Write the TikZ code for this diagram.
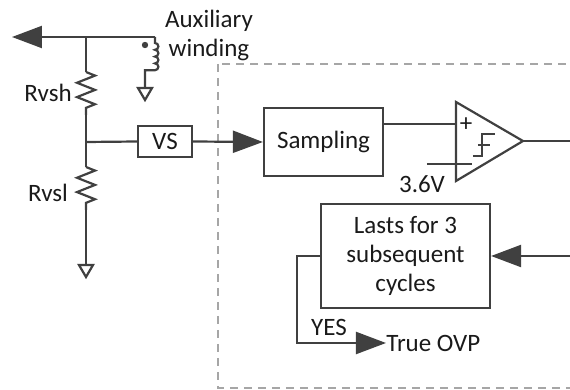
\documentclass[tikz,border=0pt]{standalone}
\usepackage{fontspec}
\setmainfont{Carlito}
\usepackage{tikz}
\usetikzlibrary{arrows.meta,positioning,decorations.pathmorphing}
\definecolor{ink}{HTML}{404040}
\definecolor{txt}{HTML}{1A1A1A}
\definecolor{frame}{HTML}{A6A6A6}
\tikzset{
  wire/.style={draw=ink, line width=1.1pt, line join=miter},
  arr/.style={wire, -{Triangle[length=15pt, width=11pt]}},
  blk/.style={draw=ink, line width=1.1pt, fill=white, text=txt, font=\fontsize{12.5}{14.5}\selectfont, align=center, inner sep=0pt},
  lab/.style={text=txt, font=\fontsize{12.5}{14.5}\selectfont, inner sep=0pt, align=center},
  res/.style={wire, decorate, decoration={zigzag, segment length=7.17pt, amplitude=4.5pt}},
  help/.style={draw=frame, dash pattern=on 4pt off 3pt, line width=0.6pt},
  gnd/.pic={\draw[wire] (-7,0) -- (7,0) -- (0,12) -- cycle;},
}

\begin{document}
\begin{tikzpicture}[x=0.5pt, y=-0.5pt]
\useasboundingbox (0,0) rectangle (570,390);

% chip boundary
\draw[help] (218,64) rectangle (600,388);

% divider and winding
\coordinate (out) at (12,37);
\coordinate (jt) at (86,37);
\coordinate (ct) at (155,37);
\coordinate (rh1) at (86,72);
\coordinate (rh2) at (86,115);
\coordinate (jm) at (86,142);
\coordinate (rl1) at (86,167);
\coordinate (rl2) at (86,210);
\coordinate (gl) at (86,265);
\coordinate (gc) at (145,88);

\draw[arr] (ct) -- (out);
\draw[wire] (jt) -- (rh1);
\draw[res] (rh1) -- (rh2);
\draw[wire] (rh2) -- (rl1);
\draw[res] (rl1) -- (rl2);
\draw[wire] (rl2) -- (gl);
\pic at (gl) {gnd};

\draw[wire] (ct) -- ++(0,6)
  arc[start angle=90, end angle=-90, radius=1.7pt]
  arc[start angle=90, end angle=-90, radius=1.7pt]
  arc[start angle=90, end angle=-90, radius=1.7pt]
  arc[start angle=90, end angle=-90, radius=1.7pt]
  -- ++(-10,0) -- (gc);
\pic at (gc) {gnd};
\fill[ink] (145,45) circle[radius=1.6pt];

\node[lab] (aux) at (209,35) {Auxiliary\\winding};
\node[lab] (rvsh) at (48,93) {Rvsh};
\node[lab] (rvsl) at (48,193) {Rvsl};

% sensing path
\node[blk, minimum width=27pt, minimum height=15.5pt] (vs) at (165,141.5) {VS};
\node[blk, minimum width=59.5pt, minimum height=34pt] (samp) at (323.5,142) {Sampling};
\draw[wire] (jm) -- (vs.west);
\draw[arr] (vs.east) -- (samp.west);

% comparator
\coordinate (ctop) at (456,102);
\coordinate (cbot) at (456,181);
\coordinate (tip) at (523,141);
\coordinate (inp) at (456,124);
\coordinate (ref) at (427,164);
\coordinate (o1) at (572,141);
\draw[wire] (ctop) -- (tip) -- (cbot) -- cycle;
\draw[wire] (samp.east |- inp) -- (inp);
\draw[wire] (ref) -- (472,164);
\node[lab] (plus) at (466,125) {+};
\draw[wire] (473,156) -- (482,156) -- (482,134) -- (495,134);
\draw[wire] (478,145) -- (490,145);
\draw[wire] (tip) -- (o1);
\node[lab] (v36) at (422,184) {3.6V};

% qualification
\node[blk, minimum width=84.5pt, minimum height=52pt] (lasts) at (405.5,256) {Lasts for 3\\subsequent\\cycles};
\coordinate (i1) at (572,256);
\coordinate (fb) at (297,256);
\draw[arr] (i1) -- (lasts.east);
\node[lab, anchor=west] (ovp) at (386,343) {True OVP};
\draw[arr] (lasts.west) -- (fb) |- (ovp.west);
\node[lab] (yes) at (329,327) {YES};
\end{tikzpicture}
\end{document}
